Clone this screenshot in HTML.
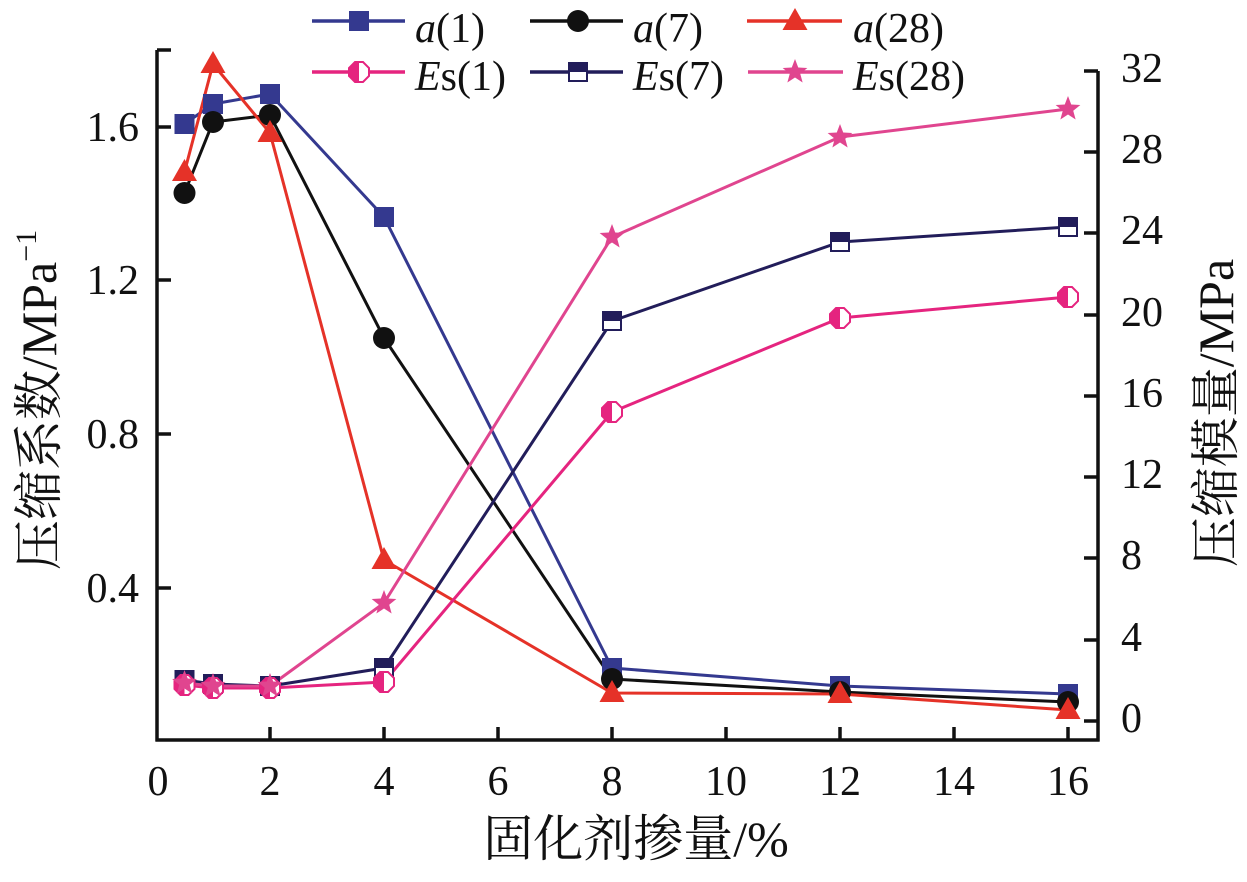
<!DOCTYPE html>
<html>
<head>
<meta charset="utf-8">
<style>
  html,body{margin:0;padding:0;background:#fff;}
  svg{display:block;}
</style>
</head>
<body>
<svg width="1247" height="882" viewBox="0 0 1247 882" xmlns="http://www.w3.org/2000/svg">
  <defs>
    <g id="mSq"><rect x="-10" y="-10" width="20" height="20" fill="#34398f"/></g>
    <g id="mCi"><circle r="11" fill="#111"/></g>
    <g id="mTr"><polygon points="0,-13 12.5,9 -12.5,9" fill="#e53228"/></g>
    <g id="mHx">
      <polygon points="-4,-10 4,-10 10,-4 10,4 4,10 -4,10 -10,4 -10,-4" fill="#fff" stroke="#e5247f" stroke-width="2"/>
      <polygon points="0,-10 -4,-10 -10,-4 -10,4 -4,10 0,10" fill="#e5247f"/>
    </g>
    <g id="mHs">
      <rect x="-9" y="-9" width="18" height="18" fill="#fff" stroke="#221d5a" stroke-width="2"/>
      <rect x="-9" y="-9" width="18" height="9" fill="#221d5a"/>
    </g>
    <g id="mSt"><polygon points="0,-13 3.23,-4.45 12.36,-4.02 5.23,1.7 7.64,10.52 0,5.5 -7.64,10.52 -5.23,1.7 -12.36,-4.02 -3.23,-4.45" fill="#e0458f"/></g>
  </defs>

  <!-- axes -->
  <g stroke="#111" stroke-width="3.5" fill="none">
    <line x1="157" y1="50" x2="157" y2="741.5"/>
    <line x1="155.5" y1="740" x2="1099.5" y2="740"/>
    <line x1="1098" y1="71" x2="1098" y2="741.5"/>
    <line x1="157" y1="50" x2="171" y2="50"/>
    <line x1="157" y1="127" x2="171" y2="127"/>
    <line x1="157" y1="280" x2="171" y2="280"/>
    <line x1="157" y1="434" x2="171" y2="434"/>
    <line x1="157" y1="588" x2="171" y2="588"/>
    <line x1="1084" y1="71" x2="1098" y2="71"/>
    <line x1="1084" y1="152" x2="1098" y2="152"/>
    <line x1="1084" y1="233" x2="1098" y2="233"/>
    <line x1="1084" y1="315" x2="1098" y2="315"/>
    <line x1="1084" y1="396" x2="1098" y2="396"/>
    <line x1="1084" y1="477" x2="1098" y2="477"/>
    <line x1="1084" y1="558" x2="1098" y2="558"/>
    <line x1="1084" y1="640" x2="1098" y2="640"/>
    <line x1="1084" y1="721" x2="1098" y2="721"/>
    <line x1="270" y1="740" x2="270" y2="727"/>
    <line x1="384" y1="740" x2="384" y2="727"/>
    <line x1="498" y1="740" x2="498" y2="727"/>
    <line x1="612" y1="740" x2="612" y2="727"/>
    <line x1="726" y1="740" x2="726" y2="727"/>
    <line x1="840" y1="740" x2="840" y2="727"/>
    <line x1="954" y1="740" x2="954" y2="727"/>
    <line x1="1068" y1="740" x2="1068" y2="727"/>
  </g>

  <!-- tick labels -->
  <g font-family="Liberation Serif, Times New Roman, DejaVu Serif, serif" font-size="42" fill="#111" text-anchor="middle">
    <text x="158" y="795">0</text>
    <text x="270" y="795">2</text>
    <text x="384" y="795">4</text>
    <text x="498" y="795">6</text>
    <text x="612" y="795">8</text>
    <text x="726" y="795">10</text>
    <text x="840" y="795">12</text>
    <text x="954" y="795">14</text>
    <text x="1068" y="795">16</text>
  </g>
  <g font-family="Liberation Serif, Times New Roman, DejaVu Serif, serif" font-size="42" fill="#111" text-anchor="end">
    <text x="139" y="141">1.6</text>
    <text x="139" y="294">1.2</text>
    <text x="139" y="448">0.8</text>
    <text x="139" y="602">0.4</text>
  </g>
  <g font-family="Liberation Serif, Times New Roman, DejaVu Serif, serif" font-size="42" fill="#111" text-anchor="start">
    <text x="1121" y="82">32</text>
    <text x="1121" y="163">28</text>
    <text x="1121" y="244">24</text>
    <text x="1121" y="326">20</text>
    <text x="1121" y="407">16</text>
    <text x="1121" y="488">12</text>
    <text x="1121" y="569">8</text>
    <text x="1121" y="651">4</text>
    <text x="1121" y="732">0</text>
  </g>

  <!-- axis labels -->
  <text x="636" y="856" text-anchor="middle" font-size="50" fill="#111" font-family="Noto Serif CJK SC, serif">固化剂掺量<tspan font-family="Liberation Serif, Times New Roman, serif">/%</tspan></text>
  <text transform="translate(56,400) rotate(-90)" text-anchor="middle" font-size="50" fill="#111" font-family="Noto Serif CJK SC, serif">压缩系数<tspan font-family="Liberation Serif, Times New Roman, serif">/MPa</tspan><tspan font-family="Liberation Serif, Times New Roman, serif" font-size="30" dy="-20">−1</tspan></text>
  <text transform="translate(1233,413) rotate(-90)" text-anchor="middle" font-size="50" fill="#111" font-family="Noto Serif CJK SC, serif">压缩模量<tspan font-family="Liberation Serif, Times New Roman, serif">/MPa</tspan></text>

  <!-- series lines -->
  <g fill="none" stroke-width="3" stroke-linejoin="round">
    <polyline stroke="#34398f" points="184.5,124 213,104 270,94 384,217 612,668 840,686 1068,694"/>
    <polyline stroke="#111" points="184.5,193 213,122 270,115 384,338 612,679 840,692 1068,702"/>
    <polyline stroke="#e53228" points="184.5,172 213,64 270,133 384,560 612,693 840,694 1068,710"/>
    <polyline stroke="#e5247f" points="184.5,685 213,688 270,688 384,682 612,412 840,318 1068,297"/>
    <polyline stroke="#221d5a" points="184.5,680 213,684 270,686 384,668 612,321 840,242 1068,227"/>
    <polyline stroke="#e0458f" points="184.5,683 213,686 270,686 384,603 612,237 840,137 1068,109"/>
  </g>

  <!-- markers -->
  <g>
    <use href="#mSq" x="184.5" y="124"/><use href="#mSq" x="213" y="104"/><use href="#mSq" x="270" y="94"/><use href="#mSq" x="384" y="217"/><use href="#mSq" x="612" y="668"/><use href="#mSq" x="840" y="686"/><use href="#mSq" x="1068" y="694"/>
    <use href="#mCi" x="184.5" y="193"/><use href="#mCi" x="213" y="122"/><use href="#mCi" x="270" y="115"/><use href="#mCi" x="384" y="338"/><use href="#mCi" x="612" y="679"/><use href="#mCi" x="840" y="692"/><use href="#mCi" x="1068" y="702"/>
    <use href="#mTr" x="184.5" y="172"/><use href="#mTr" x="213" y="64"/><use href="#mTr" x="270" y="133"/><use href="#mTr" x="384" y="560"/><use href="#mTr" x="612" y="693"/><use href="#mTr" x="840" y="694"/><use href="#mTr" x="1068" y="710"/>
    <use href="#mHs" x="184.5" y="680"/><use href="#mHs" x="213" y="684"/><use href="#mHs" x="270" y="686"/><use href="#mHs" x="384" y="668"/><use href="#mHs" x="612" y="321"/><use href="#mHs" x="840" y="242"/><use href="#mHs" x="1068" y="227"/>
    <use href="#mHx" x="184.5" y="685"/><use href="#mHx" x="213" y="688"/><use href="#mHx" x="270" y="688"/><use href="#mHx" x="384" y="682"/><use href="#mHx" x="612" y="412"/><use href="#mHx" x="840" y="318"/><use href="#mHx" x="1068" y="297"/>
    <use href="#mSt" x="184.5" y="683"/><use href="#mSt" x="213" y="686"/><use href="#mSt" x="270" y="686"/><use href="#mSt" x="384" y="603"/><use href="#mSt" x="612" y="237"/><use href="#mSt" x="840" y="137"/><use href="#mSt" x="1068" y="109"/>
  </g>

  <!-- legend -->
  <g stroke-width="3.5">
    <line x1="312" y1="21" x2="405" y2="21" stroke="#34398f"/>
    <line x1="530" y1="21" x2="623" y2="21" stroke="#111"/>
    <line x1="747" y1="21" x2="842" y2="21" stroke="#e53228"/>
    <line x1="312" y1="72" x2="405" y2="72" stroke="#e5247f"/>
    <line x1="530" y1="72" x2="623" y2="72" stroke="#221d5a"/>
    <line x1="748" y1="72" x2="843" y2="72" stroke="#e0458f"/>
  </g>
  <use href="#mSq" x="359" y="21"/>
  <use href="#mCi" x="578" y="21"/>
  <use href="#mTr" x="795" y="21"/>
  <use href="#mHx" x="359" y="72"/>
  <use href="#mHs" x="578" y="72"/>
  <use href="#mSt" x="795" y="72"/>
  <g font-family="Liberation Serif, Times New Roman, DejaVu Serif, serif" font-size="42" fill="#111">
    <text x="415" y="42"><tspan font-style="italic">a</tspan>(1)</text>
    <text x="633" y="42"><tspan font-style="italic">a</tspan>(7)</text>
    <text x="853" y="42"><tspan font-style="italic">a</tspan>(28)</text>
    <text x="415" y="90"><tspan font-style="italic">E</tspan>s(1)</text>
    <text x="633" y="90"><tspan font-style="italic">E</tspan>s(7)</text>
    <text x="853" y="90"><tspan font-style="italic">E</tspan>s(28)</text>
  </g>
</svg>
</body>
</html>
